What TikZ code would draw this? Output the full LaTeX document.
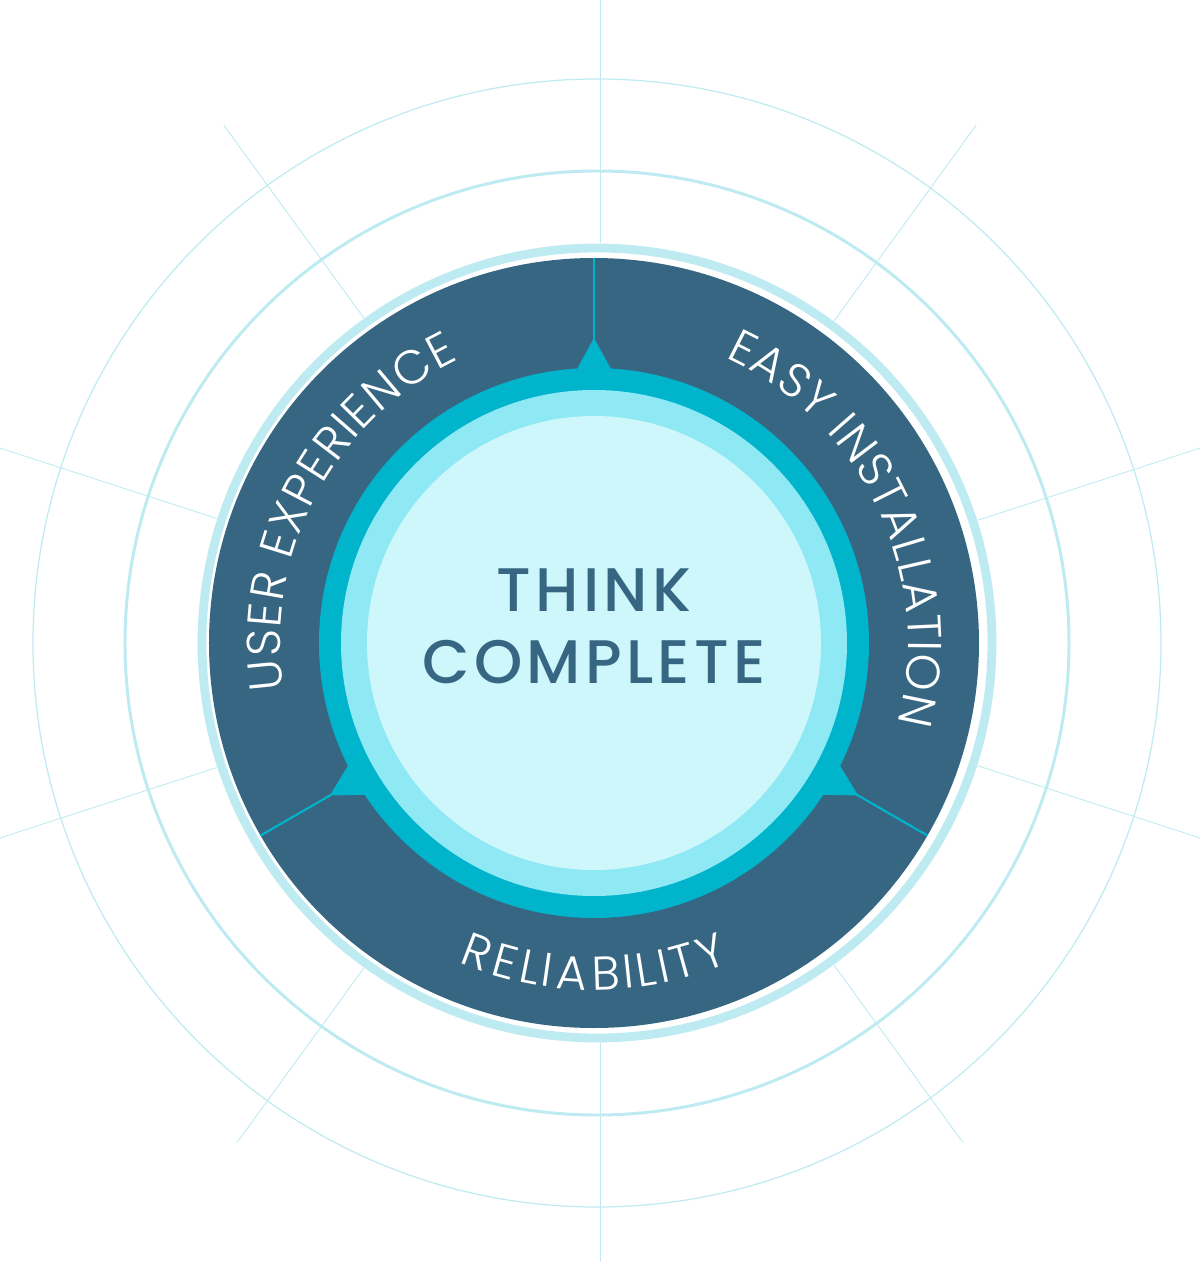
\documentclass[tikz,border=0pt]{standalone}
\usepackage{fontspec}
\setmainfont{Poppins}
\newfontfamily\labelfont{Poppins Light}
\newfontfamily\titlefont{Poppins Medium}[LetterSpace=7]
\usetikzlibrary{decorations.text}

\definecolor{deepblue}{HTML}{376683}
\definecolor{ringcyan}{HTML}{00B4CC}
\definecolor{midcyan}{HTML}{8FE9F4}
\definecolor{palecyan}{HTML}{CDF7FB}
\definecolor{gridcyan}{HTML}{BEEBF1}

\tikzset{
  arclabel/.style={decorate, decoration={text effects along path, text={#1},
      text effects/.cd, text along path, fit text to path,
      every character/.style={text=white, font=\labelfont\fontsize{27}{27}\selectfont}}},
  gridline/.style={draw=gridcyan, line width=0.5pt},
  divider/.style={draw=ringcyan, line width=1.2pt},
  notch/.style={fill=ringcyan},
  title/.style={text=deepblue, font=\titlefont\fontsize{35}{35}\selectfont, anchor=base}
}

\begin{document}
\begin{tikzpicture}[x=0.02cm, y=0.02cm]
    \useasboundingbox (-594,-619) rectangle (606,643);

    % Centres of the wheel, the grid circles and the grid rays
    \coordinate (O) at (0,0);
    \coordinate (G) at (3,0);
    \coordinate (L) at (6,0);

    % Background rays
    \foreach \a/\l in {18/640,54/640,90/650,126/640,162/640,198/640,234/618,270/650,306/618,342/640}
        \draw[gridline] (L) -- ++(\a:\l);

    % Background circles
    \draw[draw=gridcyan, line width=0.7pt] (G) circle (564);
    \draw[draw=gridcyan, line width=1.7pt] (G) circle (472);
    \fill[white] (G) circle (400);
    \draw[draw=gridcyan, line width=5pt] (G) circle (395);

    % Dark wheel
    \fill[deepblue] (O) circle (385);

    % Dividers with their notches
    \foreach \a in {90,210,330} {
        \draw[divider] (\a:303) -- (\a:385);
        \fill[notch] (\a:305) -- (\a-3.9:272) -- (\a+3.9:272) -- cycle;
    }

    % Hub rings
    \fill[ringcyan] (O) circle (275);
    \fill[midcyan] (O) circle (253);
    \fill[palecyan] (O) circle (227);

    % Labels round the wheel
    \path[arclabel={USER EXPERIENCE}] (188.5:314) arc[start angle=188.5, end angle=115.5, radius=314];
    \path[arclabel={EASY INSTALLATION}] (65.3:314) arc[start angle=65.3, end angle=-14.7, radius=314];
    \path[arclabel={RELIABILITY}] (247:347) arc[start angle=247, end angle=293, radius=347];

    % Title in the hub
    \node[title] (think) at (0,32) {THINK};
    \node[title] (complete) at (0,-40) {COMPLETE};
\end{tikzpicture}
\end{document}
